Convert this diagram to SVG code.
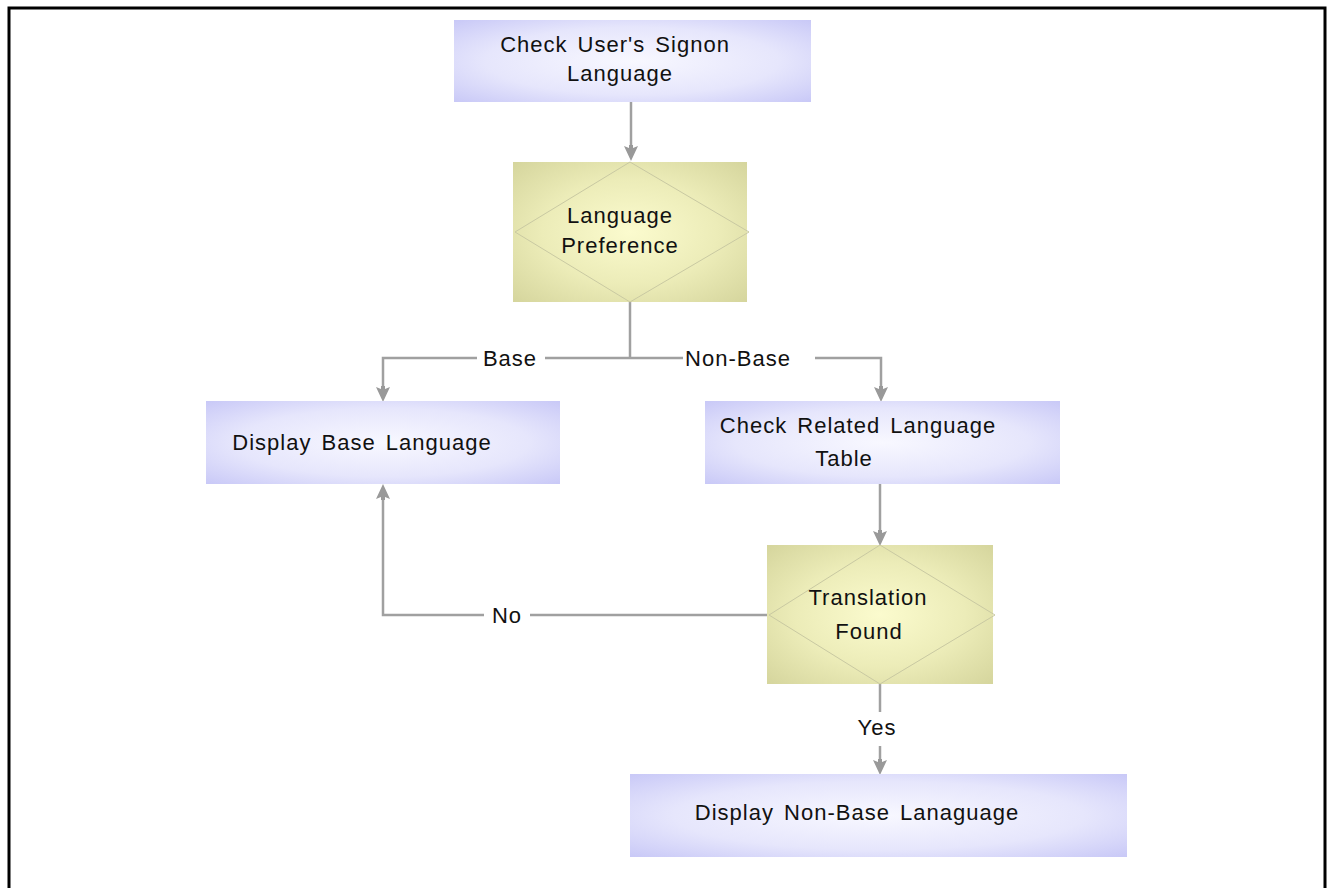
<svg xmlns="http://www.w3.org/2000/svg" width="1327" height="888" viewBox="0 0 1327 888">
  <style>
    .lbl { font-family: "Liberation Sans", Arial, sans-serif; font-size: 22px; fill: #111; letter-spacing: 1px; word-spacing: 3px; }
    .edge { fill: none; stroke: #a0a0a0; stroke-width: 2.5; }
    .diamond { fill: none; stroke: #c9c9a2; stroke-width: 1; }
    .head { fill: #999; }
  </style>
  <defs>
    <radialGradient id="procFill" cx="0.5" cy="0.5" r="0.75">
      <stop offset="0" stop-color="#f8f8ff"/>
      <stop offset="0.55" stop-color="#e6e6fc"/>
      <stop offset="1" stop-color="#c4c4f6"/>
    </radialGradient>
    <radialGradient id="decFill" cx="0.5" cy="0.5" r="0.75">
      <stop offset="0" stop-color="#fbfbce"/>
      <stop offset="0.5" stop-color="#ececb8"/>
      <stop offset="1" stop-color="#d2d299"/>
    </radialGradient>
    <!-- arrowhead pointing down, tip at (0,0) -->
    <path id="headDown" class="head" d="M-7,-14 L-2,-12 L-2,-15 L2,-15 L2,-12 L7,-14 L0,1 Z"/>
  </defs>

  <!-- frame -->
  <path d="M9,888 V8 H1325 V888" fill="none" stroke="#000" stroke-width="3"/>

  <!-- connectors -->
  <g id="connectors">
    <path class="edge" d="M631,102 V150"/>
    <path class="edge" d="M630,302 V358"/>
    <path class="edge" d="M545,358 H683"/>
    <path class="edge" d="M815,358 H881 V392"/>
    <path class="edge" d="M477,358 H383 V392"/>
    <path class="edge" d="M880,484 V536"/>
    <path class="edge" d="M767,615 H530"/>
    <path class="edge" d="M484,615 H383 V494"/>
    <path class="edge" d="M880,684 V712"/>
    <path class="edge" d="M880,746 V766"/>
    <!-- arrowheads -->
    <use href="#headDown" x="631" y="160"/>
    <use href="#headDown" x="383" y="401"/>
    <use href="#headDown" x="881" y="401"/>
    <use href="#headDown" x="880" y="545"/>
    <use href="#headDown" x="880" y="774"/>
    <use href="#headDown" transform="translate(383,485) scale(1,-1)"/>
    <text class="lbl" x="510" y="366" text-anchor="middle">Base</text>
    <text class="lbl" x="738" y="366" text-anchor="middle">Non-Base</text>
    <text class="lbl" x="507" y="623" text-anchor="middle">No</text>
    <text class="lbl" x="877" y="735" text-anchor="middle">Yes</text>
  </g>

  <g id="check-signon">
    <rect x="454" y="20" width="357" height="82" fill="url(#procFill)"/>
    <text class="lbl" x="615" y="52" text-anchor="middle">Check User's Signon</text>
    <text class="lbl" x="620" y="81" text-anchor="middle">Language</text>
  </g>

  <g id="language-preference">
    <rect x="513" y="162" width="234" height="140" fill="url(#decFill)"/>
    <path class="diamond" d="M630,162 L749,232 L630,302 L515,232 Z"/>
    <text class="lbl" x="620" y="223" text-anchor="middle">Language</text>
    <text class="lbl" x="620" y="253" text-anchor="middle">Preference</text>
  </g>

  <g id="display-base">
    <rect x="206" y="401" width="354" height="83" fill="url(#procFill)"/>
    <text class="lbl" x="362" y="450" text-anchor="middle">Display Base Language</text>
  </g>

  <g id="check-related">
    <rect x="705" y="401" width="355" height="83" fill="url(#procFill)"/>
    <text class="lbl" x="858" y="433" text-anchor="middle">Check Related Language</text>
    <text class="lbl" x="844" y="466" text-anchor="middle">Table</text>
  </g>

  <g id="translation-found">
    <rect x="767" y="545" width="226" height="139" fill="url(#decFill)"/>
    <path class="diamond" d="M880,545 L995,615 L880,684 L769,615 Z"/>
    <text class="lbl" x="868" y="605" text-anchor="middle">Translation</text>
    <text class="lbl" x="869" y="639" text-anchor="middle">Found</text>
  </g>

  <g id="display-non-base">
    <rect x="630" y="774" width="497" height="83" fill="url(#procFill)"/>
    <text class="lbl" x="857" y="820" text-anchor="middle">Display Non-Base Lanaguage</text>
  </g>
</svg>
